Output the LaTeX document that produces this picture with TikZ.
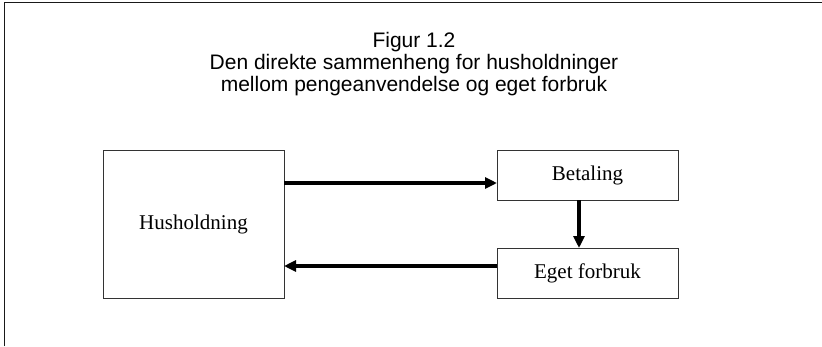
\documentclass[tikz,border=0pt]{standalone}
\usepackage{fontspec}
\setmainfont{Liberation Serif}
\newfontfamily\titlefont{Liberation Sans}
\usetikzlibrary{arrows.meta,calc}
\begin{document}
\begin{tikzpicture}[x=1pt,y=1pt,
  boxnode/.style={draw=black!80,line width=1pt,inner sep=0pt,outer sep=0pt,
    minimum width=181pt,font=\fontsize{21}{24}\selectfont},
  flow/.style={line width=3.5pt,-{Triangle[length=12pt,width=11pt]}},
  frameline/.style={line width=1.6pt,draw=black!90}]
\useasboundingbox (0,0) rectangle (822,-346);
\draw[frameline] (4.5,-346) -- (4.5,-2.5) -- (822,-2.5);
\node[align=center,font=\titlefont\fontsize{21}{22}\selectfont,anchor=base] (title) at (414,-91.7)
  {Figur 1.2\\Den direkte sammenheng for husholdninger\\mellom pengeanvendelse og eget forbruk};
\node[boxnode,minimum height=148pt] (hus) at (193.5,-224) {Husholdning};
\node[boxnode,minimum height=50pt] (bet) at (587.5,-175) {Betaling};
\node[boxnode,minimum height=50pt] (egn) at (587.5,-273) {Eget forbruk};
\coordinate (a1) at (0,-183);
\coordinate (a2) at (0,-266);
\coordinate (a3) at (579,0);
\draw[flow] (hus.east |- a1) -- (bet.west |- a1);
\draw[flow] (egn.west |- a2) -- (hus.east |- a2);
\draw[flow] (bet.south -| a3) -- (egn.north -| a3);
\end{tikzpicture}
\end{document}
